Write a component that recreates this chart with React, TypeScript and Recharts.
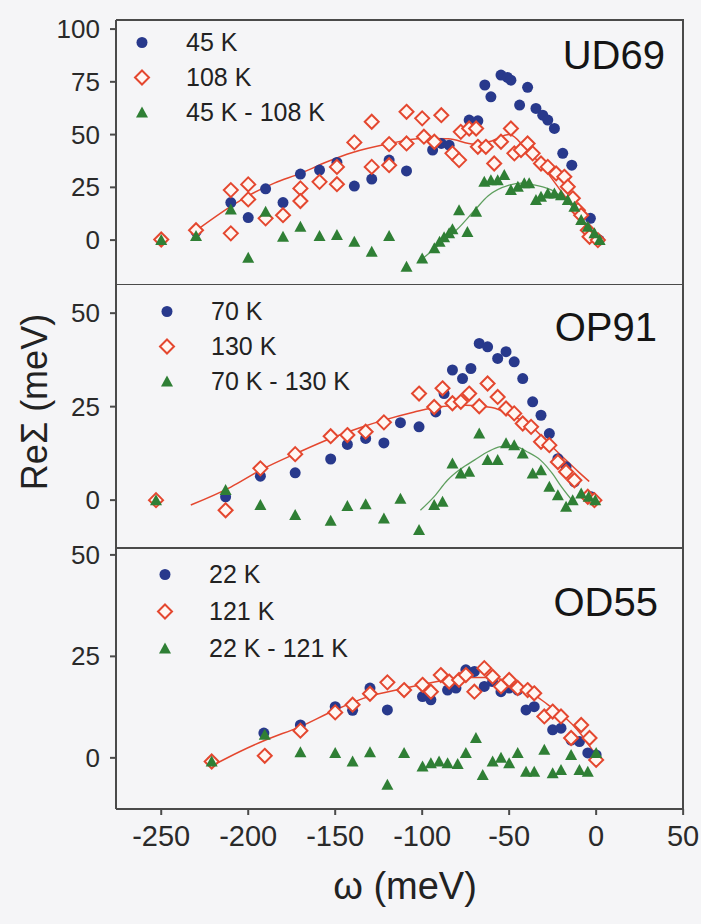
import React from "react";
import { ScatterChart, Scatter, XAxis, YAxis, Legend } from "recharts";

type Pt = [number, number];

const FONT = '"Liberation Sans", Arial, Helvetica, sans-serif';
const BLUE = "#28398c";
const RED = "#e4472f";
const GREEN = "#2f7f35";
const FRAME = "#4a4a4a";

const X_DOMAIN = [-276, 50.5];
const X_TICKS = [-250, -200, -150, -100, -50, 0, 50];
const TOP_TICKS = [-250, -200, -150, -100, -50, 0];

// UD69
const ud69Low: Pt[] = [[-250,0.3],[-230,4],[-210,17.8],[-200,10.7],[-190,24.3],[-180,17.8],[-170,31.3],[-159,33.2],[-149,36.8],[-139,25.6],[-129,28.9],[-119,37.9],[-109,32.8],[-94,42.7],[-89,45.8],[-84.5,45],[-73,56.9],[-68,56.5],[-64,73.5],[-60.5,67.9],[-54.7,78.2],[-51,77.1],[-49,75.8],[-44,64],[-39.4,72.4],[-34.6,62.4],[-30.7,59.2],[-27.8,56.9],[-24,52.9],[-19.2,41.1],[-14,35.5],[-3.3,10.3],[1.7,0]];
const ud69High: Pt[] = [[-250,0.3],[-230,4.7],[-210,23.7],[-210,3.2],[-200,26.4],[-200,19.3],[-190,10.3],[-180,11.8],[-170,24.5],[-170,18.5],[-159,27.6],[-149,26.5],[-149,34.7],[-139,46.3],[-129,34.7],[-129,56.1],[-119,45.5],[-119,35.5],[-109,60.8],[-109,45.8],[-100,57.7],[-99,49],[-93,46.6],[-89,59.2],[-82.6,41.1],[-78.8,37.9],[-77.8,51.3],[-73,52.9],[-69,52.9],[-68,44.2],[-63.4,44.2],[-58.6,36.3],[-54.7,46.6],[-49,52.9],[-47,41.1],[-43.2,42.7],[-39.4,45.8],[-36.5,41.1],[-31.7,36.3],[-27.8,34.7],[-23,31.6],[-18.3,30],[-16.3,25.3],[-13.4,19.8],[-10.5,14.2],[-8.6,11.8],[-4.8,4.7],[-3.8,1.6],[1,0]];
const ud69Diff: Pt[] = [[-250,0],[-230,1.9],[-210,14.5],[-200,-8.4],[-190,13.4],[-180,1.6],[-170,6.3],[-159,1.9],[-149,2.4],[-139,-0.8],[-129,-5.5],[-119,2],[-109,-12.6],[-100,-8.7],[-93,-3.9],[-90,-0.8],[-87.4,1.3],[-84.5,3.2],[-82.6,5.1],[-78.8,14.2],[-74,3.9],[-69,13.4],[-64.3,27.6],[-60.5,28.4],[-56.6,28.4],[-52.8,30.8],[-49,23.7],[-45,25.3],[-41.3,26.9],[-38.5,26.9],[-34.6,19],[-31.7,20.5],[-27.8,22.1],[-24,22.1],[-20.2,21.3],[-16.3,19],[-12.5,15.8],[-8.6,9.5],[-4.8,6.3],[-1,3.2],[2,0]];
const ud69HighFit: Pt[] = [[-230,4.5],[-210,16],[-200,21],[-185,27],[-170,31.6],[-155,37],[-140,41.5],[-120,45.5],[-100,48.2],[-85,48],[-70,45.5],[-60,47],[-50,50],[-40,43],[-30,34],[-20,23],[-10,12],[-3,4]];
const ud69DiffFit: Pt[] = [[-100,-9],[-90,-2],[-80,5],[-70,14],[-62,21],[-50,26],[-43,27],[-35,26],[-24,23],[-15,17],[-8,10],[-2,3]];

// OP91
const op91Low: Pt[] = [[-253,0],[-213,0.9],[-193,6.4],[-173,7.3],[-152.6,11],[-143,14.9],[-132.5,16.5],[-122,15.3],[-112.5,20.7],[-101.8,19.6],[-92.2,23.6],[-87.4,28.5],[-82.6,34.8],[-76.8,32.5],[-72,35.2],[-67.2,41.9],[-62.4,41],[-56.6,37.9],[-51.8,39.7],[-47.1,37],[-42.2,32.5],[-36.5,26.3],[-31.7,22.7],[-26.9,17.8],[-22,11.1],[-17.3,8.9],[-12.5,4.9],[-2.9,0.9]];
const op91High: Pt[] = [[-253,0],[-213,-2.7],[-193,8.5],[-173,12.3],[-152.6,17.1],[-143,17.4],[-132.5,18.3],[-122,20.8],[-101.8,28.5],[-93.1,24.9],[-88.3,29.9],[-82.6,25.9],[-77.8,26.3],[-73,28.5],[-67.2,25.1],[-62.4,31.2],[-56.6,27.6],[-51.8,24.5],[-47.1,23.2],[-42.2,20.5],[-37.4,19.6],[-31.7,15.6],[-26.9,14.7],[-22,10.2],[-17.3,7.6],[-12.5,5.3],[-4.8,0.9],[-1,0]];
const op91Diff: Pt[] = [[-253,0],[-213,2.7],[-193,-1.3],[-173,-4],[-152.6,-5.5],[-143,-1.6],[-132.5,-1.1],[-122,-4.9],[-112.5,0.4],[-101.8,-8],[-93.1,-1.3],[-88.3,-0.4],[-82.6,9.8],[-77.8,7.1],[-73,7.6],[-67.2,17.8],[-62.4,10.7],[-56.6,10.7],[-51.8,15.2],[-47.1,14.7],[-42.2,12.5],[-36.5,7.1],[-31.7,8],[-26.9,3.6],[-22,1.3],[-17.3,-1.8],[-13.5,0],[-8.6,1.8],[-4.3,0.9],[-0.5,0]];
const op91HighFit: Pt[] = [[-233,-1.3],[-210,3.5],[-193,8],[-170,13],[-152,16.6],[-135,19.5],[-122,21.4],[-105,23.5],[-90,25],[-75,25.4],[-60,24.8],[-48,22.5],[-37,19.6],[-28,15.5],[-18,11],[-10,7.5],[-4,5]];
const op91DiffFit: Pt[] = [[-101,-2.7],[-93,1],[-85.5,5.3],[-78,8.3],[-70,10.7],[-62,13],[-55,14.3],[-48,14.6],[-40,13],[-32,10.7],[-25,7],[-20,3.6],[-14,0]];

// OD55
const od55Low: Pt[] = [[-221,-0.9],[-191,6.1],[-170,8.1],[-150,12.6],[-140,11.7],[-130,17.2],[-120,11.8],[-110.4,16.7],[-99.8,15.1],[-95,14.3],[-85.4,16.7],[-80.6,17.2],[-74.9,21.7],[-70,21.3],[-64.3,17.6],[-59.5,18.8],[-54.7,16.3],[-50,17.2],[-45.1,16.7],[-40.3,11.8],[-35.6,12.6],[-25,6.9],[-20.2,7.3],[-14.4,4.4],[-9.6,4],[-4.8,1.2],[0,0.7]];
const od55High: Pt[] = [[-221,-0.9],[-190.5,0.5],[-170,6.7],[-150,11.2],[-140,13.1],[-130,15.8],[-120,18.6],[-110.4,16.7],[-99.8,18],[-95,16.3],[-89.3,20.4],[-84.5,18.8],[-78.8,19.2],[-74.9,20.4],[-70,16.3],[-64.3,22.1],[-59.5,20],[-54.7,17.6],[-50,19.2],[-45.1,17.2],[-39.4,16.7],[-35.6,15.9],[-29.8,10.2],[-25,11.4],[-20.2,10.2],[-14.4,4.9],[-8.6,8.1],[-3.8,4.9],[0,-0.5]];
const od55Diff: Pt[] = [[-221,-0.9],[-190.5,5.7],[-170,1.4],[-150,1.2],[-140,-0.9],[-130,1.4],[-120,-6.6],[-110.4,1.2],[-99.8,-2.1],[-95,-1.3],[-90.3,-0.9],[-85.4,-1.3],[-79.6,-1.5],[-74.9,1.2],[-69.1,4.9],[-65.2,-4.2],[-59.5,-0.9],[-54.7,0],[-50,-1.3],[-45.1,1.2],[-40.3,-3.4],[-35.6,-3.4],[-29.8,2],[-25,-3.8],[-20.2,-3],[-14.4,0.7],[-9.6,-3],[-4.8,-3.4],[0,1.2]];
const od55HighFit: Pt[] = [[-221,-2],[-205,1.5],[-190,4.4],[-170,7.7],[-150,11.8],[-130,15.2],[-113,16.9],[-95,18.5],[-76,19.8],[-60,19.8],[-45,17.5],[-37,15.9],[-28,13.2],[-18,10],[-10,6.5],[-1,1.2]];

const toPts = (a: Pt[]) => a.map(([x, y]) => ({ x, y }));

const Dot = (p: any) => <circle cx={p.cx} cy={p.cy} r={5.5} fill={BLUE} />;
const Diamond = (p: any) => (
  <polygon
    points={`${p.cx},${p.cy - 7} ${p.cx + 7},${p.cy} ${p.cx},${p.cy + 7} ${p.cx - 7},${p.cy}`}
    fill="#fff6f2"
    stroke={RED}
    strokeWidth={2}
  />
);
const Tri = (p: any) => (
  <polygon points={`${p.cx},${p.cy - 6} ${p.cx + 6},${p.cy + 5} ${p.cx - 6},${p.cy + 5}`} fill={GREEN} />
);
const Nothing = () => <g />;

// y tick: label plus a short outward tick mark at the frame
const YTick = (p: any) => (
  <g>
    <line x1={p.x + 10} x2={p.x + 16} y1={p.y} y2={p.y} stroke={FRAME} strokeWidth={2} />
    <text x={p.x} y={p.y} dy="0.35em" textAnchor="end" fill="#2a2a2a" fontSize={26} fontFamily={FONT}>
      {p.payload.value}
    </text>
  </g>
);

function LegendBox({ labels, rowH }: { labels: string[]; rowH: number }) {
  const marks = [
    <circle cx={16} cy={rowH / 2} r={5.5} fill={BLUE} />,
    <polygon points={`16,${rowH / 2 - 7} 23,${rowH / 2} 16,${rowH / 2 + 7} 9,${rowH / 2}`} fill="#fff6f2" stroke={RED} strokeWidth={2} />,
    <polygon points={`16,${rowH / 2 - 6} 22,${rowH / 2 + 5} 10,${rowH / 2 + 5}`} fill={GREEN} />,
  ];
  return (
    <div style={{ fontFamily: FONT, fontSize: 25, color: "#222" }}>
      {labels.map((l, i) => (
        <div key={l} style={{ display: "flex", alignItems: "center", height: rowH }}>
          <svg width={60} height={rowH}>{marks[i]}</svg>
          <span style={{ whiteSpace: "nowrap" }}>{l}</span>
        </div>
      ))}
    </div>
  );
}

type PanelProps = {
  top: number;
  height: number;
  margin: { top: number; right: number; bottom: number; left: number };
  yDomain: number[];
  yTicks: number[];
  showX: boolean;
  low: Pt[];
  high: Pt[];
  diff: Pt[];
  highFit: Pt[];
  diffFit?: Pt[];
  labels: string[];
  legendPos: { left: number; top: number; rowH: number };
};

const lineStyle = { stroke: FRAME, strokeWidth: 2 };

function Panel(p: PanelProps) {
  const plotH = p.height - p.margin.top - p.margin.bottom - (p.showX ? 40 : 0);
  return (
    <div style={{ position: "absolute", left: 0, top: p.top }}>
      <ScatterChart width={701} height={p.height} margin={p.margin}>
        <XAxis
          dataKey="x"
          type="number"
          domain={X_DOMAIN}
          ticks={X_TICKS}
          allowDataOverflow
          hide={!p.showX}
          height={40}
          tickSize={6}
          tickMargin={10}
          axisLine={lineStyle}
          tickLine={lineStyle}
          tick={{ fill: "#2a2a2a", fontSize: 29, fontFamily: FONT }}
        />
        <XAxis
          xAxisId="top"
          dataKey="x"
          type="number"
          orientation="top"
          mirror
          domain={X_DOMAIN}
          ticks={TOP_TICKS}
          allowDataOverflow
          tick={false}
          tickSize={6}
          axisLine={lineStyle}
          tickLine={lineStyle}
        />
        <YAxis
          dataKey="y"
          type="number"
          domain={p.yDomain}
          ticks={p.yTicks}
          allowDataOverflow
          width={60}
          tickSize={6}
          tickMargin={10}
          axisLine={lineStyle}
          tickLine={false}
          tick={YTick}
        />
        <Legend
          layout="vertical"
          align="center"
          verticalAlign="middle"
          wrapperStyle={{ left: p.legendPos.left, top: p.legendPos.top, width: "auto", height: "auto" }}
          content={() => <LegendBox labels={p.labels} rowH={p.legendPos.rowH} />}
        />
        <Scatter data={toPts(p.highFit)} shape={Nothing} line={{ stroke: RED, strokeWidth: 1.5 }} lineJointType="monotoneX" isAnimationActive={false} legendType="none" />
        {p.diffFit && (
          <Scatter data={toPts(p.diffFit)} shape={Nothing} line={{ stroke: "#5f9f5f", strokeWidth: 1.3 }} lineJointType="monotoneX" isAnimationActive={false} legendType="none" />
        )}
        <Scatter data={toPts(p.low)} shape={Dot} isAnimationActive={false} />
        <Scatter data={toPts(p.high)} shape={Diamond} isAnimationActive={false} />
        <Scatter data={toPts(p.diff)} shape={Tri} isAnimationActive={false} />
      </ScatterChart>
      {/* left and right frame edges */}
      <div
        style={{
          position: "absolute",
          left: p.margin.left + 60 - 1,
          top: p.margin.top,
          width: 701 - p.margin.left - 60 - p.margin.right + 1,
          height: plotH,
          borderLeft: `2px solid ${FRAME}`,
          borderRight: `2px solid ${FRAME}`,
          boxSizing: "border-box",
          pointerEvents: "none",
        }}
      />
    </div>
  );
}

const tagStyle = (right: number, top: number): React.CSSProperties => ({
  position: "absolute",
  right,
  top,
  fontFamily: FONT,
  fontSize: 40,
  color: "#151515",
  lineHeight: "40px",
});

export default function App() {
  return (
    <div style={{ position: "absolute", left: 0, top: 0, width: 701, height: 924, background: "#f5f5f7", overflow: "hidden" }}>
      <Panel
        top={0}
        height={284}
        margin={{ top: 20, right: 17, bottom: 0, left: 56 }}
        yDomain={[-20.8, 104.3]}
        yTicks={[0, 25, 50, 75, 100]}
        showX={false}
        low={ud69Low}
        high={ud69High}
        diff={ud69Diff}
        highFit={ud69HighFit}
        diffFit={ud69DiffFit}
        labels={["45 K", "108 K", "45 K - 108 K"]}
        legendPos={{ left: 126, top: 25, rowH: 35 }}
      />
      <Panel
        top={284}
        height={264}
        margin={{ top: 0, right: 17, bottom: 0, left: 56 }}
        yDomain={[-12.8, 57.8]}
        yTicks={[0, 25, 50]}
        showX={false}
        low={op91Low}
        high={op91High}
        diff={op91Diff}
        highFit={op91HighFit}
        diffFit={op91DiffFit}
        labels={["70 K", "130 K", "70 K - 130 K"]}
        legendPos={{ left: 151, top: 10, rowH: 35 }}
      />
      <Panel
        top={528}
        height={396}
        margin={{ top: 20, right: 17, bottom: 75, left: 56 }}
        yDomain={[-12.6, 51.7]}
        yTicks={[0, 25, 50]}
        showX={true}
        low={od55Low}
        high={od55High}
        diff={od55Diff}
        highFit={od55HighFit}
        labels={["22 K", "121 K", "22 K - 121 K"]}
        legendPos={{ left: 149, top: 28, rowH: 37 }}
      />
      <div style={tagStyle(36, 35)}>UD69</div>
      <div style={tagStyle(44, 307)}>OP91</div>
      <div style={tagStyle(43, 582)}>OD55</div>
      <div
        style={{
          position: "absolute",
          left: 35,
          top: 402,
          transform: "translate(-50%, -50%) rotate(-90deg)",
          fontFamily: FONT,
          fontSize: 36,
          color: "#222",
          whiteSpace: "nowrap",
        }}
      >
        ReΣ (meV)
      </div>
      <div
        style={{
          position: "absolute",
          left: 405,
          top: 886,
          transform: "translate(-50%, -50%)",
          fontFamily: FONT,
          fontSize: 38,
          color: "#222",
          whiteSpace: "nowrap",
        }}
      >
        ω (meV)
      </div>
    </div>
  );
}
